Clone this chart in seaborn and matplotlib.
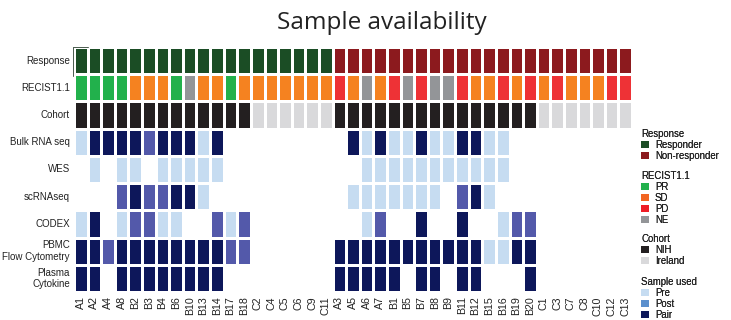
import numpy as np
import pandas as pd
import matplotlib
matplotlib.use("Agg")
import matplotlib.pyplot as plt
from matplotlib.colors import ListedColormap
from matplotlib.patches import Patch
from matplotlib.lines import Line2D
import seaborn as sns

samples = ["A1","A2","A4","A8","B2","B3","B4","B6","B10","B13","B14","B17","B18",
           "C2","C4","C5","C6","C9","C11",
           "A3","A5","A6","A7","B1","B5","B7","B8","B9","B11","B12","B15","B16","B19","B20",
           "C1","C3","C7","C8","C10","C12","C13"]
rows = ["Response","RECIST1.1","Cohort","Bulk RNA seq","WES","scRNAseq","CODEX",
        "PBMC\nFlow Cytometry","Plasma\nCytokine"]

response = ["Responder"]*19 + ["Non-responder"]*22
recist = ["PR","PR","PR","PR","SD","SD","SD","PR","NE","SD","SD","PR","SD",
          "SD","SD","SD","SD","SD","SD",
          "PD","SD","NE","SD","PD","NE","PD","NE","NE","PD","SD","SD","PD","SD","PD",
          "SD","PD","SD","SD","SD","PD","PD"]
cohort = ["NIH"]*13 + ["Ireland"]*6 + ["NIH"]*15 + ["Ireland"]*7
# sample used: "" none, "Pre", "Post", "Pair"
bulk = ["Pre","Pair","Pair","Pair","Pair","Post","Pair","Pair","Pair","Pre","Pair","","",
        "","","","","","",
        "","Pair","Pre","Pair","Pre","Pre","Pair","Pre","Pre","Pair","Pair","Pre","Pre","","",
        "","","","","","",""]
wes = ["","Pre","","Pre","Pre","","Pre","Pre","Pre","Pre","Pre","","",
       "","","","","","",
       "","","Pre","Pre","Pre","Pre","Pre","Pre","Pre","Pre","Pre","Pre","Pre","","",
       "","","","","","",""]
scrna = ["","","","Post","Pair","Post","Post","Pair","Pair","Pre","","","",
         "","","","","","",
         "","Pre","Pre","Pre","Pre","Pre","Pre","Pre","","Post","Pair","Pre","","","",
         "","","","","","",""]
codex = ["Pre","Pair","","Pre","Post","Post","Pre","Pre","","","Post","Pre","Post",
         "","","","","","",
         "","","Pre","Post","","","Pair","","","Pair","","","Pre","Post","Post",
         "","","","","","",""]
pbmc = ["Pair","Pair","Post","Pair","Pair","Pair","Pair","Pair","Pair","Pair","Pair","Post","Post",
        "","","","","","",
        "Pair","Pair","Pair","Pair","Pair","Pair","Pair","Pair","Pair","Pair","Pair","Pre","Pre","Pair","Pair",
        "","","","","","",""]
plasma = ["Pair","Pair","","Pair","Pair","Pair","Pair","Pair","Pair","Pair","Pair","","",
          "","","","","","",
          "Pair","Pair","Pair","Pair","Pair","","Pair","Pair","","Pair","Pair","","","","Pair",
          "","","","","","",""]

categories = ["Responder","Non-responder","PR","SD","PD","NE","NIH","Ireland","Pre","Post","Pair"]
cell_colors = ["#1b4d25","#8c1a1e","#22b14c","#f58220","#ee3236","#939598",
               "#231f20","#d9d9db","#c6dcf1","#5359aa","#0d175a"]
legend_colors = {"Responder":"#1b4d25","Non-responder":"#8c1a1e","PR":"#22b14c","SD":"#f26522",
                 "PD":"#ee1c25","NE":"#939598","NIH":"#231f20","Ireland":"#d9d9db",
                 "Pre":"#c6dcf1","Post":"#5b8fcd","Pair":"#0d175a"}

code = {c: i for i, c in enumerate(categories)}
data_rows = [response, recist, cohort, bulk, wes, scrna, codex, pbmc, plasma]
mat = np.array([[code[v] if v else np.nan for v in r] for r in data_rows], dtype=float)
df = pd.DataFrame(mat, index=rows, columns=samples)

sns.set_style("white")
plt.rcParams["font.family"] = ["Liberation Sans", "DejaVu Sans"]

fig = plt.figure(figsize=(7.31, 3.2), dpi=100)
ax = fig.add_axes([74/731, 1-292/320, 558/731, 245/320])
sns.heatmap(df, ax=ax, cmap=ListedColormap(cell_colors), vmin=-0.5, vmax=len(categories)-0.5,
            cbar=False, linewidths=1.0, linecolor="white", square=False)
ax.set_xticks(np.arange(len(samples)) + 0.5)
ax.set_xticklabels(samples, rotation=90, fontsize=7.7, color="#222222")
ax.set_yticks(np.arange(len(rows)) + 0.5)
ax.set_yticklabels(rows, rotation=0, fontsize=7, color="#222222", ha="right")
for lab in ax.get_yticklabels():
    lab.set_multialignment("right")
ax.tick_params(axis="both", length=0, pad=3)
ax.set_xlabel("")
ax.set_ylabel("")

# small corner mark at top-left of the grid
fig.add_artist(Line2D([73/731, 88/731], [1-46.5/320, 1-46.5/320], color="#4a5a4e", lw=0.7))
fig.add_artist(Line2D([73/731, 73/731], [1-46.5/320, 1-76/320], color="#4a5a4e", lw=0.7))

fig.text(382/731, 1-23/320, "Sample availability", ha="center", va="center",
         fontsize=17.5, family=["Open Sans", "DejaVu Sans"], color="#222222")

groups = [("Response", ["Responder","Non-responder"], 1-129/320),
          ("RECIST1.1", ["PR","SD","PD","NE"], 1-171/320),
          ("Cohort", ["NIH","Ireland"], 1-234/320),
          ("Sample used", ["Pre","Post","Pair"], 1-277/320)]
for title, items, ytop in groups:
    handles = [Patch(facecolor=legend_colors[i], edgecolor="none", label=i) for i in items]
    leg = fig.legend(handles=handles, title=title, loc="upper left",
                     bbox_to_anchor=(641/731, ytop), frameon=False, fontsize=6.9,
                     title_fontsize=6.9, handlelength=0.85, handleheight=0.7,
                     handletextpad=0.6, labelspacing=0.1, borderpad=0, borderaxespad=0)
    leg._legend_box.align = "left"
    leg.get_title().set_color("#222222")
    for t in leg.get_texts():
        t.set_color("#222222")
    fig.add_artist(leg)

fig.savefig("out.png", dpi=100)
